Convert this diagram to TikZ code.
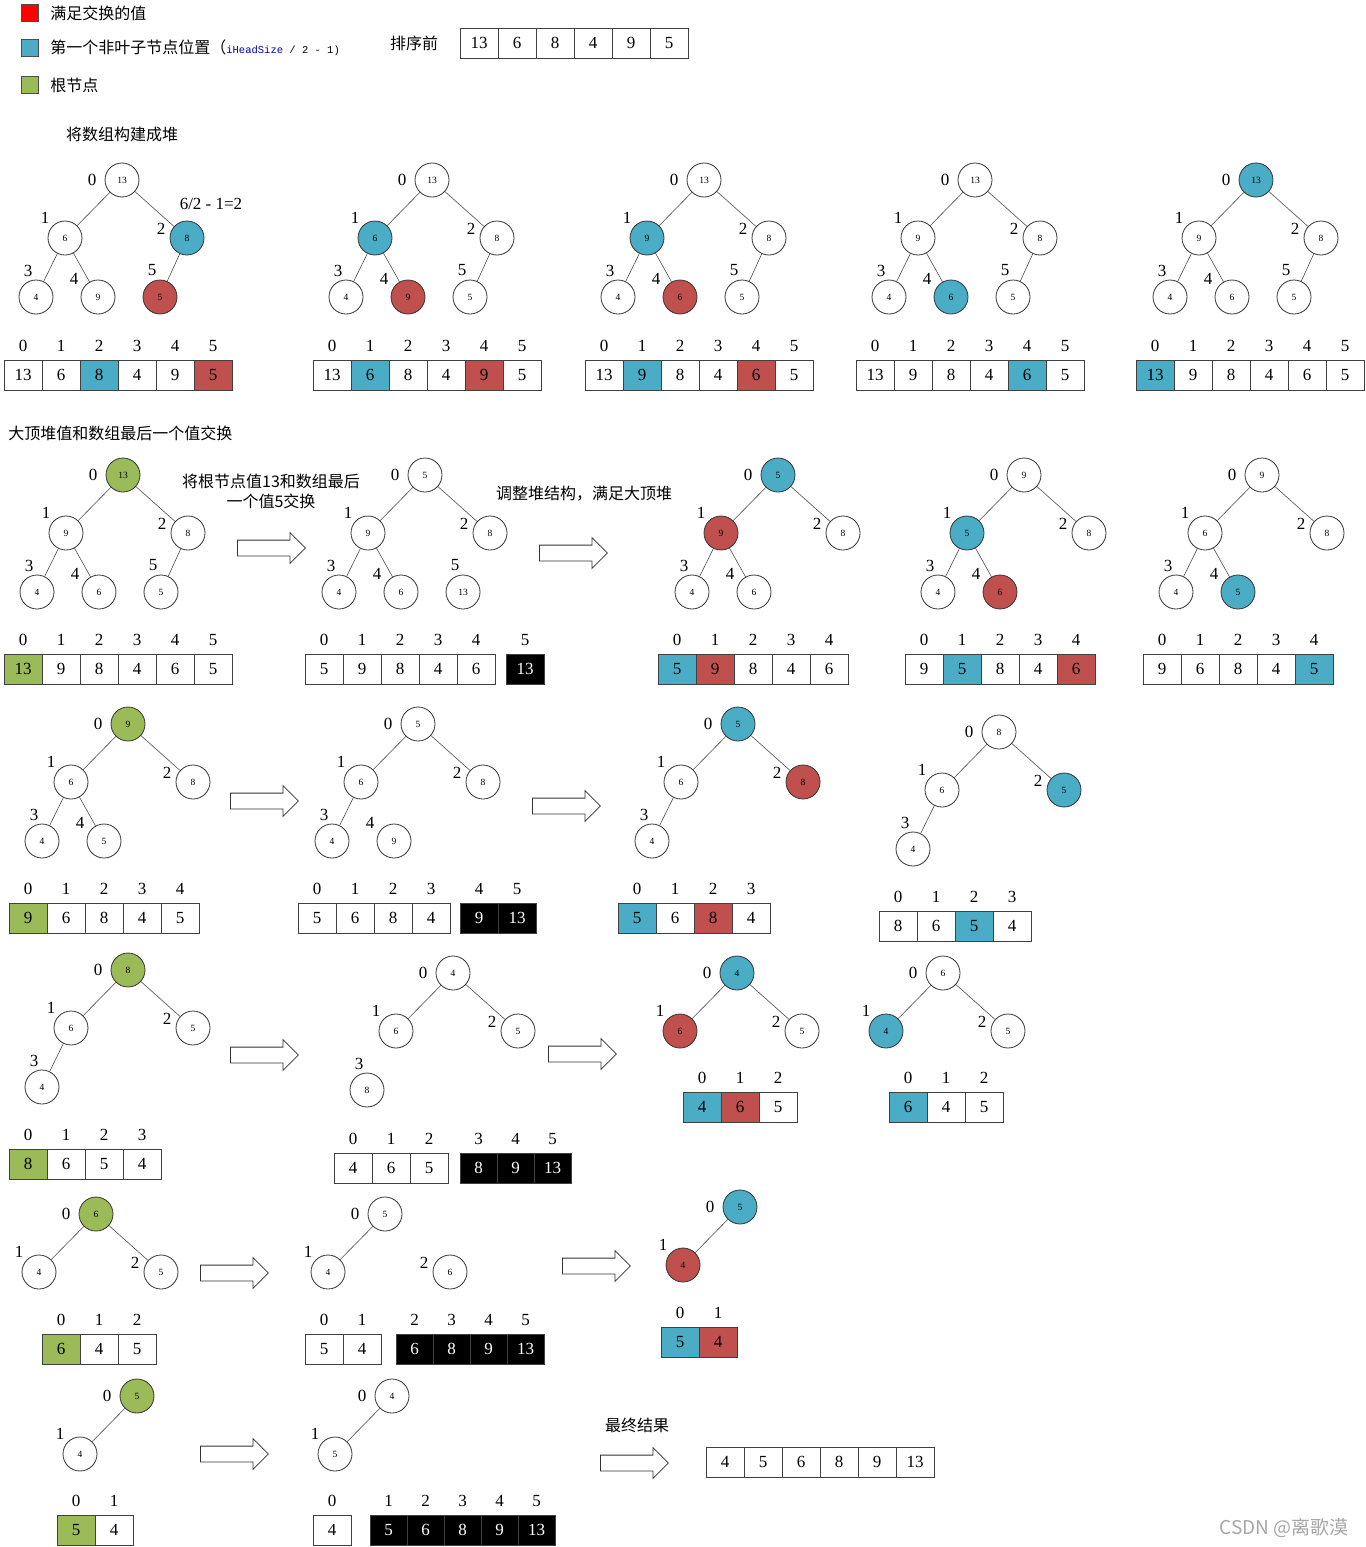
\documentclass[tikz,border=0pt]{standalone}
\usepackage{fontspec}
\setmainfont{Liberation Serif}
\setmonofont{Liberation Mono}
\newfontfamily\cjk{Noto Sans CJK SC}
\usetikzlibrary{shapes.arrows, positioning}
\definecolor{pivot}{RGB}{75,172,198}
\definecolor{swapred}{RGB}{192,80,77}
\definecolor{rootgreen}{RGB}{155,187,89}
\definecolor{codeblue}{RGB}{0,0,170}

% one heap: name, root position, list index/value/style/edge
\newcommand{\heap}[3]{%
  \begin{scope}[shift={#2}]
    \foreach \i/\v/\s/\e in {#3}{
      \pgfmathsetmacro\px{{0,-57,65,-86,-24,38}[\i]}
      \pgfmathsetmacro\py{{0,58,58,117,117,117}[\i]}
      \pgfmathsetmacro\lx{{-30,-77,39,-94,-48,30}[\i]}
      \pgfmathsetmacro\ly{{0,38,49,91,99,90}[\i]}
      \node[vtx,\s] (#1\i) at (\px,\py) {\v};
      \node[idx] (#1l\i) at (\lx,\ly) {\i};
      \ifnum\e=1
        \pgfmathtruncatemacro\pa{(\i-1)/2}
        \draw[edge] (#1\i) -- (#1\pa);
      \fi
    }
  \end{scope}}

% a row of cells: name, west point, first index (-1: none), list value/style
\newcommand{\cells}[4]{%
  \foreach \v/\s [count=\k from 0] in {#4}{
    \ifnum\k=0
      \node[cell,\s,anchor=west] (#1\k) at #2 {\v};
    \else
      \pgfmathtruncatemacro\m{\k-1}
      \node[cell,\s,right=0pt of #1\m] (#1\k) {\v};
    \fi
    \ifnum#3>-1
      \pgfmathtruncatemacro\n{#3+\k}
      \node[idx,above=8pt of #1\k] (#1i\k) {\n};
    \fi
  }}

\begin{document}
\begin{tikzpicture}[
  x=1pt, y=-1pt, line width=0.8pt,
  vtx/.style={circle, draw=black!80, minimum size=34pt, inner sep=0pt,
              font=\fontsize{9.5}{10}\selectfont},
  cell/.style={rectangle, draw=black!75, minimum width=38pt, minimum height=30pt,
               inner sep=0pt, outer sep=0pt, font=\fontsize{17}{17}\selectfont},
  idx/.style={inner sep=0pt, font=\fontsize{17}{17}\selectfont},
  note/.style={inner sep=0pt, align=center, font=\cjk\fontsize{16}{20}\selectfont},
  key/.style={draw=black!70, minimum size=17pt, inner sep=0pt},
  edge/.style={draw=black!70, line width=0.6pt},
  harrow/.style={single arrow, draw=black!80, fill=white, minimum height=68pt,
                 inner xsep=0pt, inner ysep=7.5pt, single arrow head extend=7.5pt,
                 anchor=tail},
  wt/.style={fill=white},
  pv/.style={fill=pivot},
  sw/.style={fill=swapred},
  rt/.style={fill=rootgreen},
  dn/.style={fill=black, text=white},
  dk/.style={dn, minimum width=37pt}
]
  \useasboundingbox (0,0) rectangle (1365,1547);

  % legend
  \node[key, fill=red] (kred) at (29.5,13) {};
  \node[note, anchor=west] (tred) at (50,13) {满足交换的值};
  \node[key, fill=pivot] (kblue) at (29.5,48) {};
  \node[inner sep=0pt, anchor=west] (tblue) at (50,48)
    {{\cjk\fontsize{16}{20}\selectfont 第一个非叶子节点位置（}{\ttfamily\fontsize{10.5}{12}\selectfont\textcolor{codeblue}{iHeadSize} / 2 - 1)}};
  \node[key, fill=rootgreen] (kgreen) at (29.5,85) {};
  \node[note, anchor=west] (tgreen) at (50,85) {根节点};
  \node[note] (before) at (414,43) {排序前};
  \cells{s}{(460,43)}{-1}{13/wt,6/wt,8/wt,4/wt,9/wt,5/wt}

  % building the heap
  \node[note] (build) at (122,134) {将数组构建成堆};
  \heap{ta}{(122,180)}{0/13/wt/0,1/6/wt/1,2/8/pv/1,3/4/wt/1,4/9/wt/1,5/5/sw/1}
  \node[idx] (calc) at (211,204) {6/2 - 1=2};
  \cells{aa}{(4,375)}{0}{13/wt,6/wt,8/pv,4/wt,9/wt,5/sw}
  \heap{tb}{(432,180)}{0/13/wt/0,1/6/pv/1,2/8/wt/1,3/4/wt/1,4/9/sw/1,5/5/wt/1}
  \cells{ab}{(313,375)}{0}{13/wt,6/pv,8/wt,4/wt,9/sw,5/wt}
  \heap{tc}{(704,180)}{0/13/wt/0,1/9/pv/1,2/8/wt/1,3/4/wt/1,4/6/sw/1,5/5/wt/1}
  \cells{ac}{(585,375)}{0}{13/wt,9/pv,8/wt,4/wt,6/sw,5/wt}
  \heap{td}{(975,180)}{0/13/wt/0,1/9/wt/1,2/8/wt/1,3/4/wt/1,4/6/pv/1,5/5/wt/1}
  \cells{ad}{(856,375)}{0}{13/wt,9/wt,8/wt,4/wt,6/pv,5/wt}
  \heap{te}{(1256,180)}{0/13/pv/0,1/9/wt/1,2/8/wt/1,3/4/wt/1,4/6/wt/1,5/5/wt/1}
  \cells{ae}{(1136,375)}{0}{13/pv,9/wt,8/wt,4/wt,6/wt,5/wt}

  % swapping and fixing
  \node[note, anchor=west] (swaphead) at (8,433) {大顶堆值和数组最后一个值交换};
  \heap{tf}{(123,475)}{0/13/rt/0,1/9/wt/1,2/8/wt/1,3/4/wt/1,4/6/wt/1,5/5/wt/1}
  \cells{af}{(4,669)}{0}{13/rt,9/wt,8/wt,4/wt,6/wt,5/wt}
  \node[note] (swaptxt) at (271,491) {将根节点值13和数组最后\\一个值5交换};
  \node[harrow] (go1) at (237,548) {};
  \heap{tg}{(425,475)}{0/5/wt/0,1/9/wt/1,2/8/wt/1,3/4/wt/1,4/6/wt/1,5/13/wt/0}
  \cells{ag}{(305,669)}{0}{5/wt,9/wt,8/wt,4/wt,6/wt}
  \cells{dg}{(506,669)}{5}{13/dn}
  \node[note] (fixtxt) at (584,494) {调整堆结构，满足大顶堆};
  \node[harrow] (go2) at (539,553) {};
  \heap{th}{(778,475)}{0/5/pv/0,1/9/sw/1,2/8/wt/1,3/4/wt/1,4/6/wt/1}
  \cells{ah}{(658,669)}{0}{5/pv,9/sw,8/wt,4/wt,6/wt}
  \heap{ti}{(1024,475)}{0/9/wt/0,1/5/pv/1,2/8/wt/1,3/4/wt/1,4/6/sw/1}
  \cells{ai}{(905,669)}{0}{9/wt,5/pv,8/wt,4/wt,6/sw}
  \heap{tj}{(1262,475)}{0/9/wt/0,1/6/wt/1,2/8/wt/1,3/4/wt/1,4/5/pv/1}
  \cells{aj}{(1143,669)}{0}{9/wt,6/wt,8/wt,4/wt,5/pv}

  \heap{tk}{(128,724)}{0/9/rt/0,1/6/wt/1,2/8/wt/1,3/4/wt/1,4/5/wt/1}
  \cells{ak}{(9,918)}{0}{9/rt,6/wt,8/wt,4/wt,5/wt}
  \node[harrow] (go3) at (230,801) {};
  \heap{tl}{(418,724)}{0/5/wt/0,1/6/wt/1,2/8/wt/1,3/4/wt/1,4/9/wt/0}
  \cells{al}{(298,918)}{0}{5/wt,6/wt,8/wt,4/wt}
  \cells{dl}{(460,918)}{4}{9/dn,13/dn}
  \node[harrow] (go4) at (532,806) {};
  \heap{tm}{(738,724)}{0/5/pv/0,1/6/wt/1,2/8/sw/1,3/4/wt/1}
  \cells{am}{(618,918)}{0}{5/pv,6/wt,8/sw,4/wt}
  \heap{tn}{(999,732)}{0/8/wt/0,1/6/wt/1,2/5/pv/1,3/4/wt/1}
  \cells{an}{(879,926)}{0}{8/wt,6/wt,5/pv,4/wt}

  \heap{to}{(128,970)}{0/8/rt/0,1/6/wt/1,2/5/wt/1,3/4/wt/1}
  \cells{ao}{(9,1164)}{0}{8/rt,6/wt,5/wt,4/wt}
  \node[harrow] (go5) at (230,1055) {};
  \heap{tp}{(453,973)}{0/4/wt/0,1/6/wt/1,2/5/wt/1,3/8/wt/0}
  \cells{ap}{(334,1168)}{0}{4/wt,6/wt,5/wt}
  \cells{dp}{(460,1168)}{3}{8/dk,9/dk,13/dk}
  \node[harrow] (go6) at (548,1054) {};
  \heap{tq}{(737,973)}{0/4/pv/0,1/6/sw/1,2/5/wt/1}
  \cells{aq}{(683,1107)}{0}{4/pv,6/sw,5/wt}
  \heap{tr}{(943,973)}{0/6/wt/0,1/4/pv/1,2/5/wt/1}
  \cells{ar}{(889,1107)}{0}{6/pv,4/wt,5/wt}

  \heap{ts}{(96,1214)}{0/6/rt/0,1/4/wt/1,2/5/wt/1}
  \cells{as}{(42,1349)}{0}{6/rt,4/wt,5/wt}
  \node[harrow] (go7) at (200,1273) {};
  \heap{tt}{(385,1214)}{0/5/wt/0,1/4/wt/1,2/6/wt/0}
  \cells{at}{(305,1349)}{0}{5/wt,4/wt}
  \cells{dt}{(396,1349)}{2}{6/dk,8/dk,9/dk,13/dk}
  \node[harrow] (go8) at (562,1266) {};
  \heap{tu}{(740,1207)}{0/5/pv/0,1/4/sw/1}
  \cells{au}{(661,1342)}{0}{5/pv,4/sw}

  \heap{tv}{(137,1396)}{0/5/rt/0,1/4/wt/1}
  \cells{av}{(57,1530)}{0}{5/rt,4/wt}
  \node[harrow] (go9) at (200,1454) {};
  \heap{tw}{(392,1396)}{0/4/wt/0,1/5/wt/1}
  \cells{aw}{(313,1530)}{0}{4/wt}
  \cells{dw}{(370,1530)}{1}{5/dk,6/dk,8/dk,9/dk,13/dk}

  % result
  \node[note] (final) at (637,1425) {最终结果};
  \node[harrow] (go10) at (600,1463) {};
  \cells{ax}{(706,1462)}{-1}{4/wt,5/wt,6/wt,8/wt,9/wt,13/wt}
  \node[inner sep=0pt, text=black!35, font=\cjk\fontsize{19}{20}\selectfont] (mark) at (1284,1528) {CSDN @离歌漠};
\end{tikzpicture}
\end{document}
